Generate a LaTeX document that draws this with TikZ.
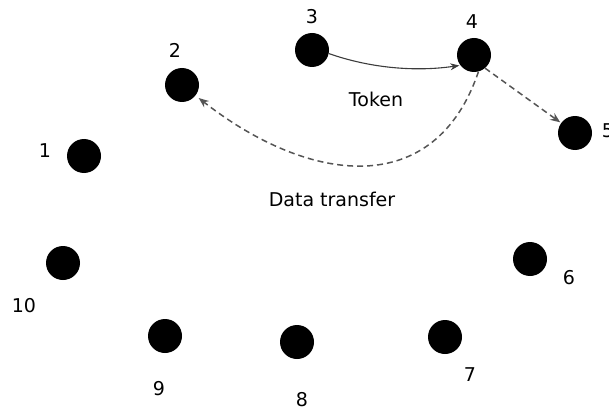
\documentclass[tikz,border=0pt]{standalone}
\usepackage{fontspec}
\setmainfont{DejaVu Sans}
\usetikzlibrary{arrows.meta}

\begin{document}
\begin{tikzpicture}[x=1pt,y=1pt,yscale=-1,xscale=1,
  station/.style={circle,fill=black,inner sep=0pt,minimum size=34pt},
  lbl/.style={inner sep=0.75pt,font=\fontsize{19}{22}\selectfont},
  tokenline/.style={color={rgb, 255:red, 60; green, 60; blue, 60},line width=1.1,-{Stealth[length=9pt,width=7pt]}},
  dataline/.style={color={rgb, 255:red, 85; green, 85; blue, 85},line width=1.5,dash pattern=on 6pt off 4pt,-{Stealth[length=10pt,width=8pt]}}]
\useasboundingbox (0,0) rectangle (609,414);

%Shape: Circle
\node [station] (n1) at (84,156) {};
\node [station] (n2) at (182,85) {};
\node [station] (n3) at (312,50) {};
\node [station] (n4) at (474,55) {};
\node [station] (n5) at (575,133) {};
\node [station] (n6) at (530,259) {};
\node [station] (n7) at (445,337) {};
\node [station] (n8) at (297,342) {};
\node [station] (n9) at (165,336) {};
\node [station] (n10) at (63,263) {};

% Text Node
\node [lbl] (l1) at (45,151) {1};
\node [lbl] (l2) at (175,50) {2};
\node [lbl] (l3) at (312,17) {3};
\node [lbl] (l4) at (472,22) {4};
\node [lbl,anchor=west] (l5) at (601,131) {5};
\node [lbl] (l6) at (569,278) {6};
\node [lbl] (l7) at (470,375) {7};
\node [lbl] (l8) at (302,400) {8};
\node [lbl] (l9) at (159,389) {9};
\node [lbl] (l10) at (24,306) {10};
% Text Node
\node [lbl] (tok) at (376,99) {Token};
% Text Node
\node [lbl] (xfer) at (332,199) {Data transfer};

%Curve Lines
\draw [tokenline,shorten >=1pt] (n3.-12) .. controls (370,68) and (415,72) .. (n4.217);
\draw [dataline,shorten >=4pt] (n4.-75) .. controls (435,200) and (310,185) .. (n2);
%Straight Lines
\draw [dataline,shorten >=1pt] (n4.-50) -- (n5);
\end{tikzpicture}
\end{document}
